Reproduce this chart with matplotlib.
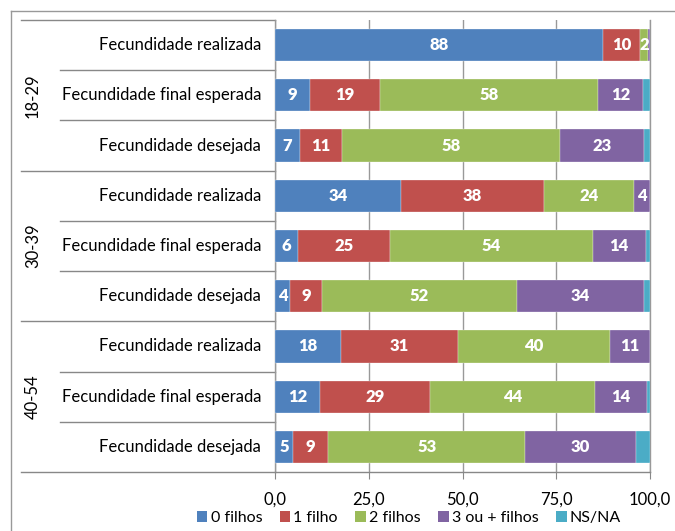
import matplotlib
matplotlib.use("Agg")
import matplotlib.pyplot as plt
from matplotlib.lines import Line2D
from matplotlib.patches import Patch
import matplotlib.transforms as mtransforms

plt.rcParams['font.family'] = ['Lato', 'DejaVu Sans']

groups = ["18-29", "30-39", "40-54"]
rows = ["Fecundidade realizada", "Fecundidade final esperada", "Fecundidade desejada"]
series = ["0 filhos", "1 filho", "2 filhos", "3 ou + filhos", "NS/NA"]
colors = ["#4F81BD", "#C0504D", "#9BBB59", "#8064A2", "#4BACC6"]

# values per row (top to bottom), one list per series
v0 = [87.5, 9.3, 6.7, 33.6, 6.2, 4.0, 17.6, 12.0, 4.9]
v1 = [9.8, 18.7, 11.2, 38.0, 24.5, 8.6, 31.3, 29.3, 9.3]
v2 = [2.1, 58.2, 58.0, 24.1, 54.0, 51.8, 40.3, 44.0, 52.5]
v3 = [0.6, 11.8, 22.6, 4.3, 14.1, 34.0, 10.8, 14.0, 29.5]
v4 = [0.0, 2.0, 1.5, 0.0, 1.2, 1.6, 0.0, 0.7, 3.8]
labels0 = [88, 9, 7, 34, 6, 4, 18, 12, 5]
labels1 = [10, 19, 11, 38, 25, 9, 31, 29, 9]
labels2 = [2, 58, 58, 24, 54, 52, 40, 44, 53]
labels3 = [None, 12, 23, 4, 14, 34, 11, 14, 30]
labels4 = [None] * 9
xticks = [0, 25, 50, 75, 100]
xticklabels = ["0,0", "25,0", "50,0", "75,0", "100,0"]

W, H = 675, 531
fig = plt.figure(figsize=(W / 100, H / 100), dpi=100)
L, R, T, B = 275, 650, 20, 472
ax = fig.add_axes([L / W, 1 - B / H, (R - L) / W, (B - T) / H])

vals = [v0, v1, v2, v3, v4]
labs = [labels0, labels1, labels2, labels3, labels4]
n = len(v0)
ypos = list(range(n))
left = [0.0] * n
for s in range(5):
    ax.barh(ypos, vals[s], left=left, height=0.64, color=colors[s], zorder=3,
            edgecolor='white', linewidth=0.2)
    for i in range(n):
        lab = labs[s][i]
        if lab is not None:
            ax.text(left[i] + vals[s][i] / 2, ypos[i], str(lab), ha='center', va='center',
                    color='white', fontsize=12, fontweight='heavy', zorder=4)
    left = [left[i] + vals[s][i] for i in range(n)]

ax.set_xlim(0, 100)
ax.set_ylim(n - 0.5, -0.5)
ax.set_xticks(xticks)
ax.set_xticklabels(xticklabels, fontsize=12)
ax.tick_params(axis='x', length=5, color='#888888', pad=9)
ax.set_yticks([])
ax.grid(axis='x', color='#999999', linewidth=1, zorder=0)
ax.spines['top'].set_visible(False)
ax.spines['right'].set_color('#999999')
ax.spines['left'].set_color('#999999')
ax.spines['bottom'].set_color('#888888')
for sp in ax.spines.values():
    sp.set_linewidth(1)

trans = mtransforms.blended_transform_factory(ax.transAxes, ax.transData)
x_far = (21 - L) / (R - L)
x_near = (60 - L) / (R - L)
x_lab = (261 - L) / (R - L)
x_grp = (33 - L) / (R - L)

# row labels
for g in range(3):
    for r in range(3):
        i = g * 3 + r
        ax.text(x_lab, i, rows[r], transform=trans, ha='right', va='center', fontsize=12)
    ax.text(x_grp, g * 3 + 1, groups[g], transform=trans, ha='center', va='center',
            rotation=90, fontsize=12)
# separator lines
for k in range(n + 1):
    y = k - 0.5
    xs = x_far if k % 3 == 0 else x_near
    ax.add_line(Line2D([xs, 0], [y, y], transform=trans, color='#888888', linewidth=1,
                       clip_on=False))

# outer frame
fx = 11 / W
fy = 1 - 11 / H
fig.add_artist(Line2D([fx, fx], [0, fy], transform=fig.transFigure, color='#999999', linewidth=1))
fig.add_artist(Line2D([fx, 1], [fy, fy], transform=fig.transFigure, color='#999999', linewidth=1))

handles = [Patch(facecolor=c, edgecolor='none') for c in colors]
fig.legend(handles, series, loc='center', bbox_to_anchor=(409 / W, 1 - 518 / H), ncol=5,
           frameon=False, fontsize=11.5, handlelength=0.65, handleheight=0.65,
           handletextpad=0.2, columnspacing=1.1, borderpad=0)

fig.savefig("out.png", dpi=100)
